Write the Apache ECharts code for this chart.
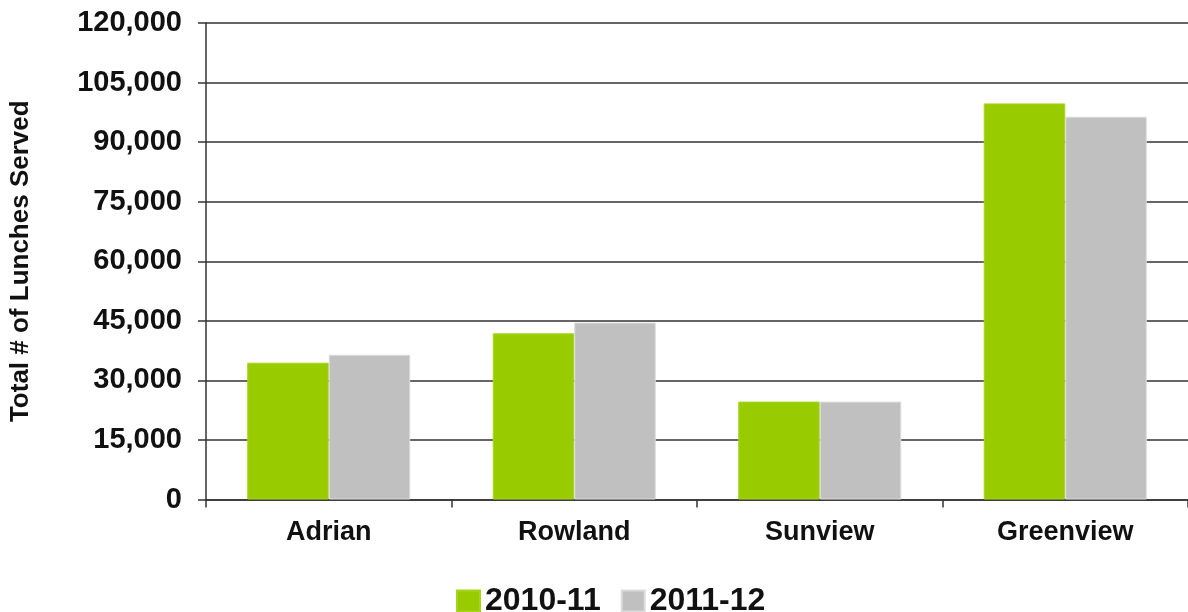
<!DOCTYPE html>
<html>
<head>
<meta charset="utf-8">
<script src="https://cdn.jsdelivr.net/npm/echarts@6/dist/echarts.min.js"></script>
<style>
  html, body { margin: 0; padding: 0; background: #fff; }
  #main { width: 1188px; height: 612px; }
</style>
</head>
<body>
<div id="main"></div>
<script>
  const schools = ['Adrian', 'Rowland', 'Sunview', 'Greenview']
  const seriesNames = ['2010-11', '2011-12']
  const lunches2010 = [34450, 41850, 24650, 99750]
  const lunches2011 = [36450, 44550, 24650, 96400]

  const font = '"Liberation Sans", Arial, sans-serif'
  const myChart = echarts.init(document.getElementById('main'))

  const option = {
    backgroundColor: '#ffffff',
    animation: false,
    grid: { left: 205.5, right: 0, top: 23, bottom: 112.5 },
    legend: {
      left: 451,
      top: 580,
      itemWidth: 23,
      itemHeight: 21,
      itemGap: 20,
      icon: 'rect',
      textStyle: { fontFamily: font, fontWeight: 'bold', fontSize: 32, color: '#111' },
      data: seriesNames
    },
    xAxis: {
      type: 'category',
      data: schools,
      axisLine: { lineStyle: { color: '#333', width: 1.5 } },
      axisTick: { show: true, length: 8, inside: false, lineStyle: { color: '#333', width: 1.5 } },
      axisLabel: { fontFamily: font, fontWeight: 'bold', fontSize: 27, color: '#111', margin: 20 }
    },
    yAxis: {
      type: 'value',
      min: 0,
      max: 120000,
      interval: 15000,
      name: 'Total # of Lunches Served',
      nameLocation: 'middle',
      nameGap: 172,
      nameRotate: 90,
      nameTextStyle: { fontFamily: font, fontWeight: 'bold', fontSize: 26, color: '#111' },
      axisLine: { show: true, lineStyle: { color: '#333', width: 1.5 } },
      axisTick: { show: true, length: 8, lineStyle: { color: '#333', width: 1.5 } },
      splitLine: { lineStyle: { color: '#333', width: 1.5 } },
      axisLabel: {
        fontFamily: font, fontWeight: 'bold', fontSize: 29, color: '#111', margin: 24,
        formatter: function (v) { return v.toLocaleString('en-US') }
      }
    },
    series: [
      {
        name: seriesNames[0],
        type: 'bar',
        data: lunches2010,
        barGap: '0%',
        barCategoryGap: '33.6%',
        itemStyle: { color: '#99CC00', borderColor: '#a6d41a', borderWidth: 1 }
      },
      {
        name: seriesNames[1],
        type: 'bar',
        data: lunches2011,
        itemStyle: { color: '#C0C0C0', borderColor: '#dcdcdc', borderWidth: 1 }
      }
    ]
  }

  myChart.setOption(option, true)
</script>
</body>
</html>
